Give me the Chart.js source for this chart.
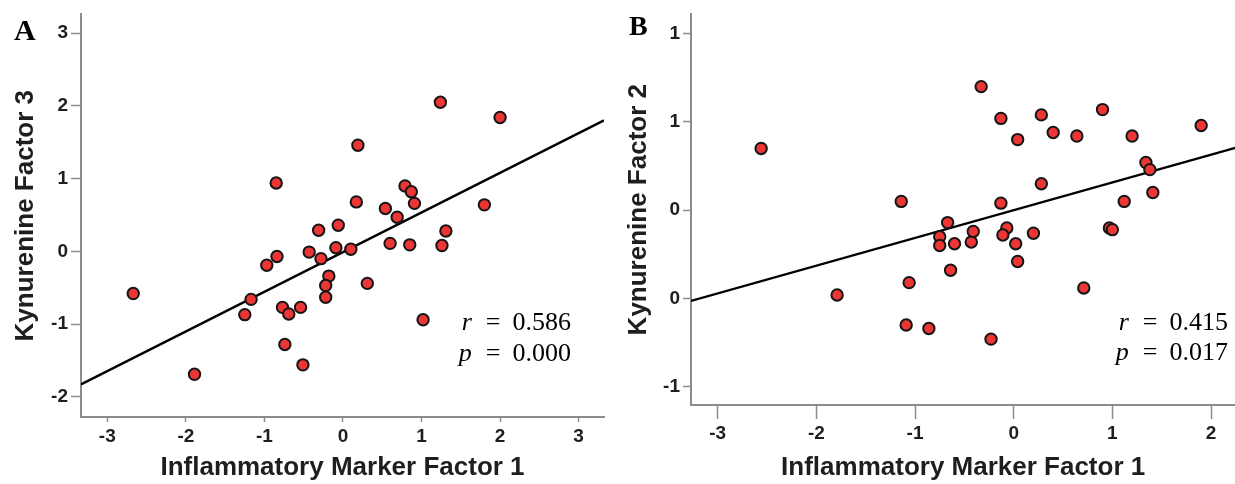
<!DOCTYPE html>
<html lang="en">
<head>
<meta charset="UTF-8">
<title>Kynurenine Factors vs Inflammatory Marker Factor 1</title>
<script src="https://cdn.jsdelivr.net/npm/chart.js"></script>
<style>
  html, body { margin: 0; padding: 0; background: #fff; overflow: hidden; width: 1235px; height: 484px; }
  .panel { position: absolute; top: 0; }
  #panelA { left: 0; }
  #panelB { left: 617px; }
</style>
</head>
<body>
<canvas id="panelA" class="panel" width="617" height="484"></canvas>
<canvas id="panelB" class="panel" width="626" height="484"></canvas>
<script>
// --- values ---

// Panel A: Inflammatory Marker Factor 1 vs Kynurenine Factor 3
const inflamA = [-2.67, -1.89, -1.25, -1.17, -0.97, -0.85, -0.84, -0.77, -0.69, -0.74,
                 -0.54, -0.51, -0.43, -0.31, -0.28, -0.18, -0.22, -0.22, -0.09, -0.06,
                  0.10,  0.17,  0.19,  0.31,  0.54,  0.60,  0.69,  0.79,  0.87,  0.85,
                  0.91,  1.02,  1.24,  1.26,  1.31,  1.80,  2.00];
const kynA    = [-0.58, -1.69, -0.87, -0.66, -0.19,  0.94, -0.07, -0.77, -0.86, -1.28,
                 -0.77, -1.56, -0.01,  0.29, -0.10, -0.34, -0.47, -0.63,  0.05,  0.36,
                  0.03,  0.68,  1.46, -0.44,  0.59,  0.11,  0.47,  0.90,  0.82,  0.09,
                  0.66, -0.94,  2.05,  0.08,  0.28,  0.64,  1.84];
const slopeA = 0.545;
const interceptA = -0.01;
const xTicksA = [-3, -2, -1, 0, 1, 2, 3];
const yTicksA = [-2, -1, 0, 1, 2, 3];
const statsA = ['0.586', '0.000'];

// Panel B: Inflammatory Marker Factor 1 vs Kynurenine Factor 2
const inflamB = [-2.56, -1.79, -1.14, -1.09, -1.06, -0.86, -0.75, -0.75, -0.67, -0.64,
                 -0.60, -0.43, -0.41, -0.33, -0.23, -0.13, -0.13, -0.07, -0.11,  0.02,
                  0.04,  0.04,  0.20,  0.28,  0.28,  0.40,  0.64,  0.71,  0.90,  0.97,
                  1.00,  1.12,  1.20,  1.34,  1.38,  1.41,  1.90];
const kynB    = [ 0.35, -0.48,  0.05, -0.65, -0.41, -0.67, -0.15, -0.20, -0.07, -0.34,
                 -0.19, -0.18, -0.12,  0.70, -0.73,  0.52,  0.04, -0.10, -0.14, -0.19,
                 -0.29,  0.40, -0.13,  0.54,  0.15,  0.44,  0.42, -0.44,  0.57, -0.10,
                 -0.11,  0.05,  0.42,  0.27,  0.23,  0.10,  0.48];
const slopeB = 0.157;
const interceptB = 0.0;
const xTicksB = [-3, -2, -1, 0, 1, 2];
const yTicksB = [-1, -0.5, 0, 0.5, 1];
const yTickLabelsB = ['-1', '0', '0', '1', '1'];
const statsB = ['0.415', '0.017'];

const statNames = ['r', 'p'];

// --- styling ---
const AXIS_GREY = '#8c8c8c';
const TEXT = '#1e1e1e';
const tickFont = { family: 'Liberation Sans, Arial, sans-serif', size: 19, weight: 'bold' };
const titleFont = { family: 'Liberation Sans, Arial, sans-serif', size: 26, weight: 'bold', lineHeight: 1.2 };

function makeAxis(opts) {
  return {
    type: 'linear',
    min: opts.min,
    max: opts.max,
    afterBuildTicks: s => { s.ticks = opts.ticks.map(v => ({ value: v })); },
    afterFit: s => {
      if (opts.width !== undefined) s.width = opts.width;
      if (opts.height !== undefined) s.height = opts.height;
    },
    border: { display: true, color: AXIS_GREY, width: 2 },
    grid: {
      display: true, drawOnChartArea: false, drawTicks: true,
      tickLength: opts.tickLength, tickWidth: 1.5, color: AXIS_GREY
    },
    ticks: {
      font: tickFont, color: TEXT, padding: opts.tickPad,
      autoSkip: false, maxRotation: 0,
      callback: (v, i) => opts.labels ? opts.labels[i] : String(opts.ticks[i])
    },
    title: {
      display: true, text: opts.title, font: titleFont, color: TEXT,
      padding: opts.titlePad
    }
  };
}

// panel letter + r / p annotation
function annotations(letter, letterFont, letterX, letterY, stats, statRight, statBase) {
  return {
    id: 'annot' + letter,
    afterDraw(chart) {
      const ctx = chart.ctx;
      ctx.save();
      ctx.fillStyle = '#000';
      ctx.textBaseline = 'alphabetic';
      ctx.textAlign = 'left';
      ctx.font = letterFont;
      ctx.fillText(letter, letterX, letterY);

      ctx.textAlign = 'right';
      stats.forEach((val, i) => {
        const y = statBase[i];
        ctx.font = '26px "Liberation Serif", serif';
        ctx.fillText(val, statRight, y);
        const eqX = statRight - ctx.measureText(val).width - 12;
        ctx.fillText('=', eqX, y);
        const eqW = ctx.measureText('=').width;
        ctx.font = 'italic 26px "Liberation Serif", serif';
        ctx.fillText(statNames[i], eqX - eqW - 14, y);
      });
      ctx.restore();
    }
  };
}

function buildPanel(id, p) {
  const points = p.xs.map((x, i) => ({ x: x, y: p.ys[i] }));
  const fitLine = [p.xMin, p.xMax].map(x => ({ x: x, y: p.slope * x + p.intercept }));

  return new Chart(document.getElementById(id), {
    type: 'scatter',
    data: {
      datasets: [
        {
          label: 'points',
          data: points,
          pointRadius: 5.7,
          pointHoverRadius: 5.7,
          pointBackgroundColor: '#ec3535',
          pointBorderColor: '#151515',
          pointBorderWidth: 2
        },
        {
          label: 'fit',
          type: 'line',
          data: fitLine,
          borderColor: '#000',
          borderWidth: 2.4,
          pointRadius: 0,
          fill: false
        }
      ]
    },
    options: {
      responsive: false,
      animation: false,
      events: [],
      layout: { padding: p.padding },
      plugins: { legend: { display: false }, tooltip: { enabled: false } },
      scales: {
        x: makeAxis({
          min: p.xMin, max: p.xMax, ticks: p.xTicks, height: p.xAxisHeight,
          tickLength: p.xTickLen, tickPad: 3,
          title: 'Inflammatory Marker Factor 1', titlePad: { top: 0, bottom: 1 }
        }),
        y: makeAxis({
          min: p.yMin, max: p.yMax, ticks: p.yTicks, labels: p.yLabels, width: p.yAxisWidth,
          tickLength: p.yTickLen, tickPad: 3,
          title: p.yTitle, titlePad: { top: p.yTitlePad, bottom: 0 }
        })
      }
    },
    plugins: [annotations(p.letter, p.letterFont, p.letterX, p.letterY, p.stats, p.statRight, p.statBase)]
  });
}

buildPanel('panelA', {
  xs: inflamA, ys: kynA, slope: slopeA, intercept: interceptA,
  xMin: -3.335, xMax: 3.323, yMin: -2.277, yMax: 3.258,
  xTicks: xTicksA, yTicks: yTicksA, yLabels: null,
  padding: { top: 13, right: 13, left: 0, bottom: 0 },
  yAxisWidth: 81, xAxisHeight: 67, xTickLen: 5, yTickLen: 10, yTitlePad: 10,
  yTitle: 'Kynurenine Factor 3',
  letter: 'A', letterFont: 'bold 30px "Liberation Serif", serif', letterX: 14, letterY: 40,
  stats: statsA, statRight: 571, statBase: [330, 361]
});

buildPanel('panelB', {
  xs: inflamB, ys: kynB, slope: slopeB, intercept: interceptB,
  xMin: -3.271, xMax: 2.246, yMin: -1.103, yMax: 1.109,
  xTicks: xTicksB, yTicks: yTicksB, yLabels: yTickLabelsB,
  padding: { top: 13, right: 0, left: 0, bottom: 0 },
  yAxisWidth: 74, xAxisHeight: 79, xTickLen: 14, yTickLen: 8, yTitlePad: 6,
  yTitle: 'Kynurenine Factor 2',
  letter: 'B', letterFont: 'bold 28px "Liberation Serif", serif', letterX: 12, letterY: 35,
  stats: statsB, statRight: 611, statBase: [330, 360]
});
</script>
</body>
</html>
